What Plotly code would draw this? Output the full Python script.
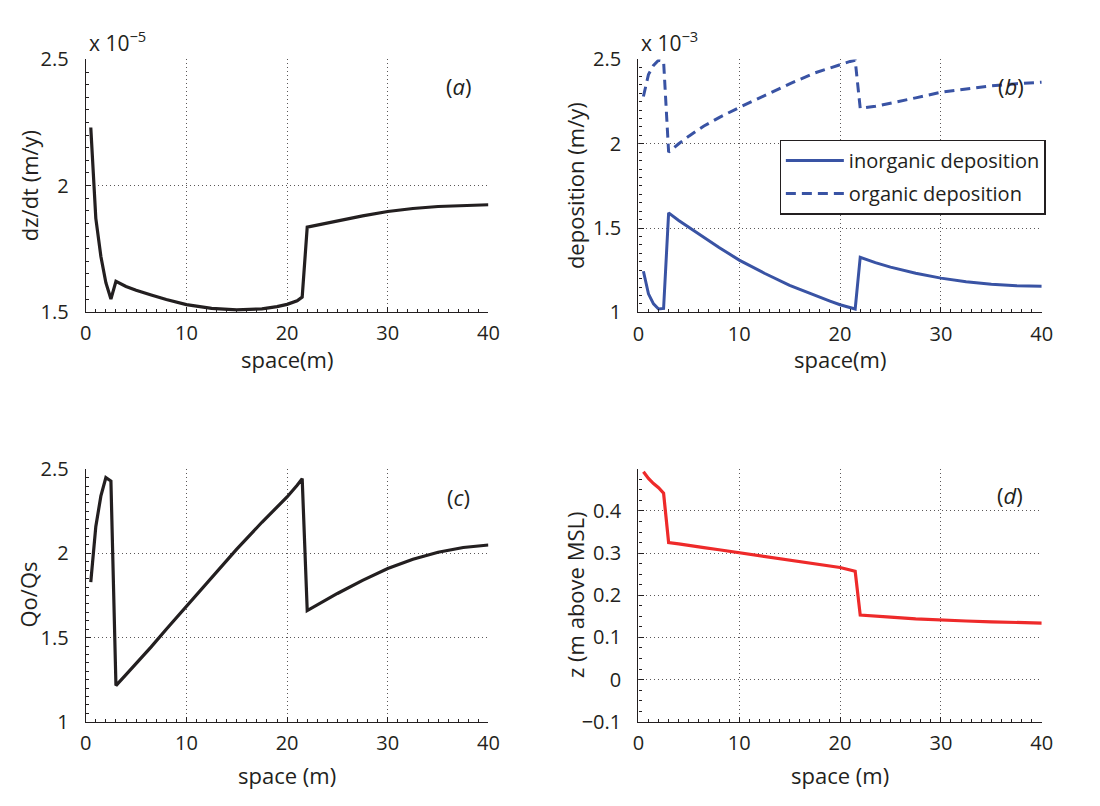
import plotly.graph_objects as go

# Distance along the transect (m)
space_m = [0.5, 1.0, 1.5, 2.0, 2.5, 3.0, 4, 5, 6.5, 8, 10, 12.5, 15, 17.5, 19, 20, 21, 21.5,
           22, 23.5, 25, 27.5, 30, 32.5, 35, 37.5, 40]

# (a) accretion rate dz/dt, in units of 1e-5 m/y
dzdt_e5 = [2.23, 1.87, 1.72, 1.615, 1.55, 1.62, 1.60, 1.585, 1.566, 1.548, 1.528, 1.513, 1.507,
           1.511, 1.52, 1.529, 1.543, 1.558, 1.835, 1.848, 1.861, 1.88, 1.897, 1.909, 1.917,
           1.922, 1.924]

# (b) deposition rates, in units of 1e-3 m/y
inorganic_e3 = [1.244, 1.11, 1.05, 1.02, 1.023, 1.59, 1.545, 1.505, 1.44, 1.385, 1.31, 1.232,
                1.16, 1.10, 1.067, 1.045, 1.028, 1.02, 1.327, 1.295, 1.268, 1.232, 1.203,
                1.182, 1.167, 1.158, 1.155]
organic_e3 = [2.28, 2.41, 2.465, 2.495, 2.49, 1.95, 2.0, 2.045, 2.105, 2.155, 2.215, 2.285,
              2.355, 2.42, 2.45, 2.47, 2.488, 2.495, 2.21, 2.222, 2.24, 2.272, 2.305, 2.325,
              2.343, 2.356, 2.365]

# (c) ratio of organic to inorganic deposition
qo_qs = [1.83, 2.16, 2.34, 2.45, 2.43, 1.215, 1.28, 1.345, 1.445, 1.55, 1.685, 1.855, 2.025,
         2.185, 2.275, 2.335, 2.405, 2.444, 1.66, 1.712, 1.762, 1.84, 1.91, 1.965, 2.007, 2.035,
         2.05]

# (d) marsh elevation (m above MSL)
z_msl = [0.493, 0.477, 0.465, 0.455, 0.442, 0.325, 0.322, 0.318, 0.313, 0.308, 0.301, 0.293,
         0.285, 0.276, 0.27, 0.266, 0.26, 0.257, 0.153, 0.15, 0.148, 0.144, 0.141, 0.139,
         0.137, 0.135, 0.134]

x_ticks = [0, 10, 20, 30, 40]

INK = "#231f20"
BLUE = "#3953a4"
RED = "#ee2a2a"
FONT = "Open Sans"
W, H = 1100, 806
TICK_SIZE = 20
TEXT_SIZE = 22

# plot-area boxes in pixels: (left, right, top, bottom)
boxes = {
    "a": (81, 490, 47, 308),
    "b": (642.3, 1052, 47, 308.7),
    "c": (81, 490, 471, 732.3),
    "d": (642.3, 1052, 471, 732.3),
}


def xdom(k):
    l, r, _, _ = boxes[k]
    return [l / W, r / W]


def ydom(k):
    _, _, t, b = boxes[k]
    return [1 - b / H, 1 - t / H]


grid = dict(showgrid=True, gridcolor="rgba(35,31,32,0.75)", gridwidth=1, griddash="1px,3px")
common = dict(showline=True, linecolor=INK, linewidth=1.3, ticks="inside", ticklen=5,
              tickcolor=INK, tickwidth=1, zeroline=False, mirror=False,
              tickfont=dict(family=FONT, size=TICK_SIZE, color=INK), **grid)

fig = go.Figure()

fig.add_trace(go.Scatter(x=space_m, y=dzdt_e5, mode="lines", line=dict(color=INK, width=3.2),
                         showlegend=False, xaxis="x", yaxis="y"))
fig.add_trace(go.Scatter(x=space_m, y=inorganic_e3, mode="lines", name="inorganic deposition",
                         legendgroup="inorg", line=dict(color=BLUE, width=3),
                         xaxis="x2", yaxis="y2"))
fig.add_trace(go.Scatter(x=space_m, y=organic_e3, mode="lines", name="organic deposition",
                         legendgroup="org", line=dict(color=BLUE, width=3, dash="10px,6px"),
                         xaxis="x2", yaxis="y2"))
fig.add_trace(go.Scatter(x=space_m, y=qo_qs, mode="lines", line=dict(color=INK, width=3.2),
                         showlegend=False, xaxis="x3", yaxis="y3"))
fig.add_trace(go.Scatter(x=space_m, y=z_msl, mode="lines", line=dict(color=RED, width=3.2),
                         showlegend=False, xaxis="x4", yaxis="y4"))

xminor = dict(dtick=1, ticks="inside", ticklen=3, tickcolor=INK, showgrid=False)


def xaxis(k, anchor):
    return dict(domain=xdom(k), anchor=anchor, range=[0, 40], tickvals=x_ticks,
                ticklabelstandoff=3, minor=xminor, **common)


def yaxis(k, anchor, rng, vals, mdt):
    return dict(domain=ydom(k), anchor=anchor, range=rng, tickvals=vals,
                ticklabelstandoff=12,
                minor=dict(dtick=mdt, ticks="inside", ticklen=3, tickcolor=INK, showgrid=False),
                **common)


fig.update_layout(
    width=W, height=H, margin=dict(l=0, r=0, t=0, b=0),
    paper_bgcolor="white", plot_bgcolor="white",
    xaxis=xaxis("a", "y"),
    yaxis=yaxis("a", "x", [1.5, 2.5], [1.5, 2, 2.5], 0.05),
    xaxis2=xaxis("b", "y2"),
    yaxis2=yaxis("b", "x2", [1, 2.5], [1, 1.5, 2, 2.5], 0.05),
    xaxis3=xaxis("c", "y3"),
    yaxis3=yaxis("c", "x3", [1, 2.5], [1, 1.5, 2, 2.5], 0.05),
    xaxis4=xaxis("d", "y4"),
    yaxis4=yaxis("d", "x4", [-0.1, 0.499], [-0.1, 0, 0.1, 0.2, 0.3, 0.4], 0.025),
    legend=dict(x=785.7 / W, y=1 - 130 / H, xanchor="left", yanchor="top",
                bgcolor="white", bordercolor=INK, borderwidth=1.3,
                traceorder="grouped", tracegroupgap=4, itemwidth=58,
                font=dict(family=FONT, size=20, color=INK)),
)


def label(text, px, py, size=TEXT_SIZE, angle=0, xanchor="center", yanchor="middle"):
    fig.add_annotation(text=text, x=px / W, y=1 - py / H, xref="paper", yref="paper",
                       showarrow=False, textangle=angle, xanchor=xanchor, yanchor=yanchor,
                       font=dict(family=FONT, size=size, color=INK))


# axis titles
label("space(m)", 285.5, 357)
label("space(m)", 847, 357)
label("space (m)", 285.5, 787)
label("space (m)", 847, 787)
label("dz/dt (m/y)", 23, 177.5, angle=-90)
label("deposition (m/y)", 578, 178, angle=-90)
label("Qo/Qs", 22, 601, angle=-90)
label("z (m above MSL)", 578, 601, angle=-90)

# exponent multipliers
label("x 10<sup>−5</sup>", 82, 28, size=21, xanchor="left")
label("x 10<sup>−3</sup>", 643, 28, size=21, xanchor="left")

# panel tags
label("(<i>a</i>)", 460, 74)
label("(<i>b</i>)", 1021, 75)
label("(<i>c</i>)", 460, 500)
label("(<i>d</i>)", 1020, 498)

fig.write_html("out.html")
